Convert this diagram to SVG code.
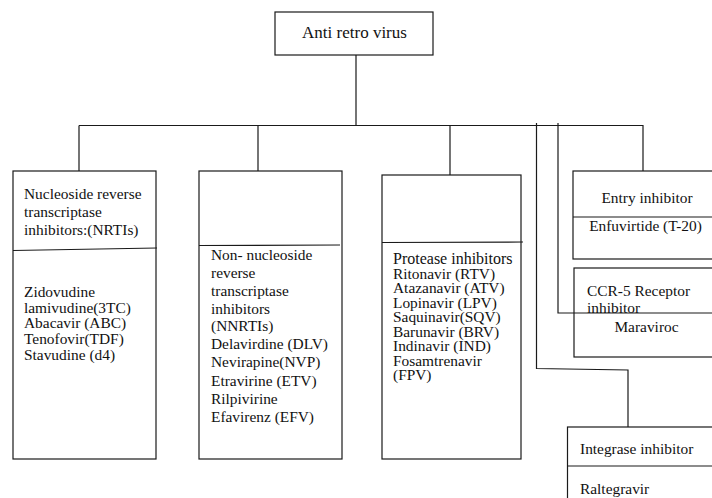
<svg xmlns="http://www.w3.org/2000/svg" width="712" height="498" viewBox="0 0 712 498" font-family="'Liberation Serif', 'Times New Roman', serif">
<style>
.b{fill:#fff;stroke:#1a1a1a;stroke-width:1.2}
.l{fill:none;stroke:#1a1a1a;stroke-width:1.2}
text{font-family:'Liberation Serif', 'Times New Roman', serif;font-size:15.4px;fill:#111}
.c{text-anchor:middle}
.p{font-size:15.4px}
</style>
<rect width="712" height="498" fill="#fff"/>
<g id="connectors">
<path class="l" d="M356,55V125.5M79,125.5H643V171M79,125.5V171M258,125.5V171M450,125.5V175"/>
<path class="l" d="M536.5,123V368.5L628,370V427"/>
<path class="l" d="M558,123V313H712"/>
</g>
<g id="root">
<rect class="b" x="275" y="12" width="158" height="43"/>
<text class="c" x="354.5" y="38.3" font-size="17" style="font-size:17px">Anti retro virus</text>
</g>
<g id="nrti">
<rect class="b" x="13" y="171" width="143" height="288"/>
<line class="l" x1="13" y1="250.5" x2="157" y2="248"/>
<text x="24" y="199">Nucleoside reverse</text>
<text x="24" y="217">transcriptase</text>
<text x="24" y="235">inhibitors:(NRTIs)</text>
<text x="24" y="296.7">Zidovudine</text>
<text x="24" y="312.5">lamivudine(3TC)</text>
<text x="24" y="328.3">Abacavir (ABC)</text>
<text x="24" y="344">Tenofovir(TDF)</text>
<text x="24" y="359.5">Stavudine (d4)</text>
</g>
<g id="nnrti">
<rect class="b" x="199" y="171" width="143" height="288"/>
<line class="l" x1="199" y1="245.5" x2="340" y2="245"/>
<text x="211" y="259.5">Non- nucleoside</text>
<text x="211" y="277.5">reverse</text>
<text x="211" y="295.5">transcriptase</text>
<text x="211" y="313.5">inhibitors</text>
<text x="211" y="331">(NNRTIs)</text>
<text x="211" y="349">Delavirdine (DLV)</text>
<text x="211" y="367.3">Nevirapine(NVP)</text>
<text x="211" y="385.6">Etravirine (ETV)</text>
<text x="211" y="404">Rilpivirine</text>
<text x="211" y="422.3">Efavirenz (EFV)</text>
</g>
<g id="protease">
<rect class="b" x="382" y="175" width="139" height="284"/>
<line class="l" x1="382" y1="242.5" x2="523" y2="242"/>
<text class="p" x="393" y="264.3" style="font-size:16px">Protease inhibitors</text>
<text class="p" x="393" y="279">Ritonavir (RTV)</text>
<text class="p" x="393" y="293.4">Atazanavir (ATV)</text>
<text class="p" x="393" y="308">Lopinavir (LPV)</text>
<text class="p" x="393" y="322.4">Saquinavir(SQV)</text>
<text class="p" x="393" y="337">Barunavir (BRV)</text>
<text class="p" x="393" y="351.4">Indinavir (IND)</text>
<text class="p" x="393" y="366">Fosamtrenavir</text>
<text class="p" x="393" y="380.4">(FPV)</text>
</g>
<g id="entry">
<rect class="b" x="573" y="171" width="145" height="88"/>
<line class="l" x1="573" y1="217" x2="712" y2="217"/>
<text class="c" x="647" y="203">Entry inhibitor</text>
<text class="c" x="645.5" y="231">Enfuvirtide (T-20)</text>
</g>
<g id="ccr5">
<rect class="b" x="574" y="268" width="145" height="89"/>
<text x="587" y="296">CCR-5 Receptor</text>
<text x="587" y="313">inhibitor</text>
<text class="c" x="646.5" y="332">Maraviroc</text>
</g>
<line class="l" x1="574" y1="313" x2="712" y2="313"/>
<g id="integrase">
<rect class="b" x="567.5" y="427" width="150" height="80"/>
<line class="l" x1="567.5" y1="466" x2="712" y2="466"/>
<text x="580" y="454">Integrase inhibitor</text>
<text x="580" y="494">Raltegravir</text>
</g>
</svg>
